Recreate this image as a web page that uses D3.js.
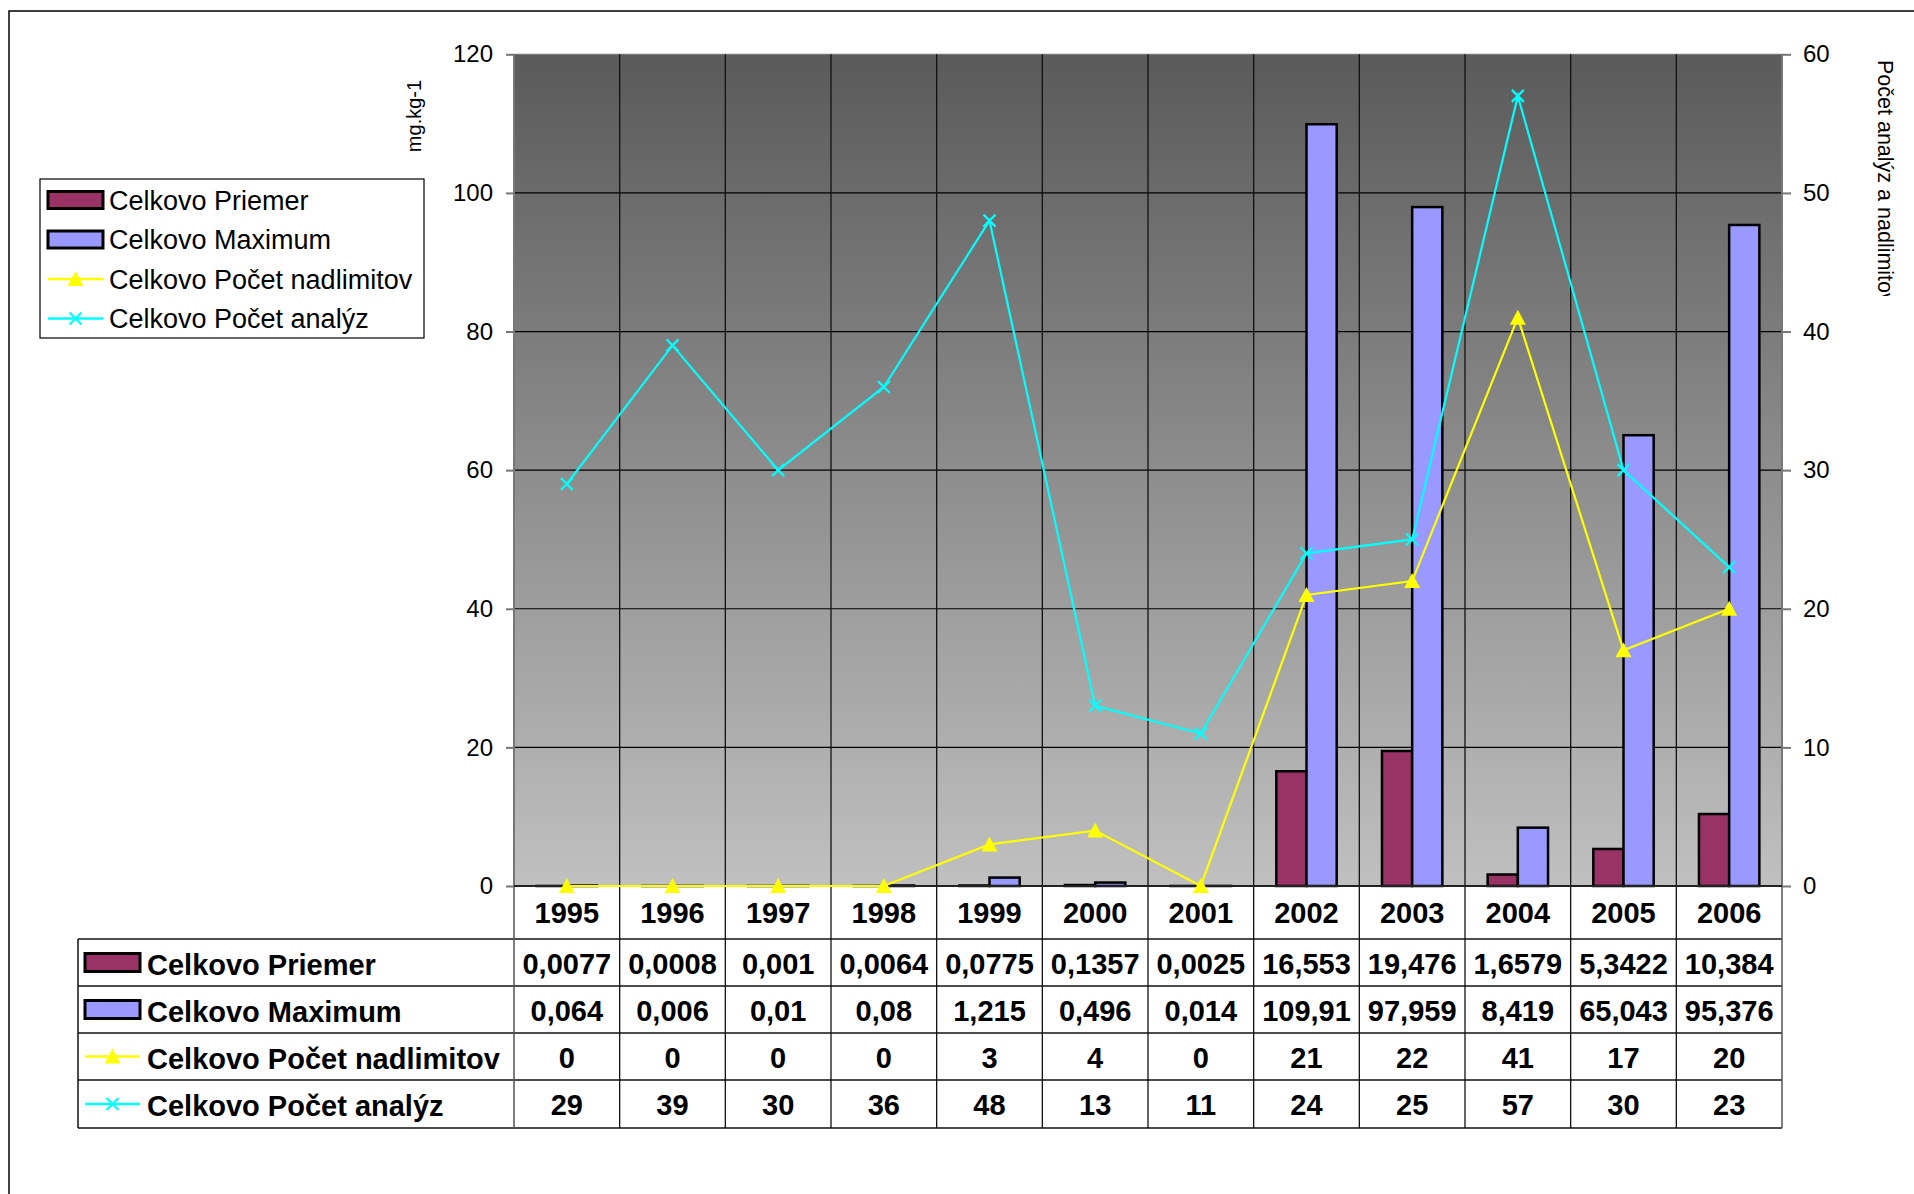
<!DOCTYPE html>
<html>
<head>
<meta charset="utf-8">
<script src="https://cdn.jsdelivr.net/npm/d3@7"></script>
<style>
  html, body { margin: 0; padding: 0; background: #fff; }
  svg { display: block; }
  text { font-family: "Liberation Sans", Arial, sans-serif; }
</style>
</head>
<body>
<svg id="chart" width="1914" height="1194"></svg>
<script>
// ---------------- DATA ----------------
const years = ["1995","1996","1997","1998","1999","2000","2001","2002","2003","2004","2005","2006"];
const priemer = [0.0077, 0.0008, 0.001, 0.0064, 0.0775, 0.1357, 0.0025, 16.553, 19.476, 1.6579, 5.3422, 10.384];
const maximum = [0.064, 0.006, 0.01, 0.08, 1.215, 0.496, 0.014, 109.91, 97.959, 8.419, 65.043, 95.376];
const nadlimitov = [0, 0, 0, 0, 3, 4, 0, 21, 22, 41, 17, 20];
const analyz = [29, 39, 30, 36, 48, 13, 11, 24, 25, 57, 30, 23];
const leftTicks = [0, 20, 40, 60, 80, 100, 120];
const rightTicks = [0, 10, 20, 30, 40, 50, 60];
const seriesNames = ["Celkovo Priemer", "Celkovo Maximum", "Celkovo Počet nadlimitov", "Celkovo Počet analýz"];
const leftTitle = "mg.kg-1";
const rightTitle = "Počet analýz a nadlimitov";

// ---------------- LAYOUT ----------------
const C = { maroon: "#993366", blue: "#9999FF", yellow: "#FFFF00", cyan: "#00FFFF" };
const plotL = 514, plotR = 1782, plotT = 54.3, plotB = 886;
const rowLines = [939, 986, 1033, 1080, 1128];
const tableL = 78;

const svg = d3.select("#chart");
const fmt = v => String(v).replace(".", ",");

const x = d3.scaleBand().domain(years).range([plotL, plotR]).paddingInner(0).paddingOuter(0);
const bw = x.bandwidth();
const xSub = d3.scaleBand().domain(["p", "m"]).range([0, bw]).paddingInner(0).paddingOuter(0.75);
const yL = d3.scaleLinear().domain([0, 120]).range([plotB, plotT]);
const yR = d3.scaleLinear().domain([0, 60]).range([plotB, plotT]);

// outer frame
svg.append("path").attr("d", `M9,1194 L9,11 L1914,11`).attr("fill", "none").attr("stroke", "#000").attr("stroke-width", 1.5);

// plot background gradient
const defs = svg.append("defs");
const grad = defs.append("linearGradient").attr("id", "bg").attr("x1", 0).attr("y1", 0).attr("x2", 0).attr("y2", 1);
grad.append("stop").attr("offset", "0%").attr("stop-color", "#5a5a5a");
grad.append("stop").attr("offset", "100%").attr("stop-color", "#c0c0c0");
svg.append("rect").attr("x", plotL).attr("y", plotT).attr("width", plotR - plotL).attr("height", plotB - plotT).attr("fill", "url(#bg)");

// horizontal gridlines
svg.append("g").selectAll("line").data(leftTicks.filter(t => t > 0)).join("line")
  .attr("x1", plotL).attr("x2", plotR).attr("y1", d => yL(d)).attr("y2", d => yL(d))
  .attr("stroke", d => d === 120 ? "#777" : "#000").attr("stroke-width", 1.2);

// vertical gridlines (plot + table)
svg.append("g").selectAll("line").data(years.slice(1)).join("line")
  .attr("x1", d => x(d)).attr("x2", d => x(d)).attr("y1", plotT).attr("y2", rowLines[rowLines.length - 1])
  .attr("stroke", "#111").attr("stroke-width", 1.3);

// table lines
const tbl = svg.append("g");
tbl.selectAll("line.h").data(rowLines).join("line").attr("class", "h")
  .attr("x1", tableL).attr("x2", plotR).attr("y1", d => d).attr("y2", d => d)
  .attr("stroke", "#111").attr("stroke-width", 1.5);
tbl.append("line").attr("x1", tableL).attr("x2", tableL).attr("y1", rowLines[0]).attr("y2", rowLines[4]).attr("stroke", "#111").attr("stroke-width", 1.5);
tbl.append("line").attr("x1", plotL).attr("x2", plotL).attr("y1", plotB).attr("y2", rowLines[4]).attr("stroke", "#555").attr("stroke-width", 1.5);
tbl.append("line").attr("x1", plotR).attr("x2", plotR).attr("y1", plotB).attr("y2", rowLines[4]).attr("stroke", "#555").attr("stroke-width", 1.5);

// bars
const bars = svg.append("g");
const barSeries = [{ key: "p", vals: priemer, color: C.maroon }, { key: "m", vals: maximum, color: C.blue }];
barSeries.forEach(s => {
  bars.selectAll(null).data(years).join("rect")
    .attr("x", (d) => x(d) + xSub(s.key))
    .attr("width", xSub.bandwidth())
    .attr("y", (d, i) => yL(s.vals[i]))
    .attr("height", (d, i) => plotB - yL(s.vals[i]))
    .attr("fill", s.color).attr("stroke", "#000").attr("stroke-width", 2.5);
});

// axes lines
svg.append("line").attr("x1", plotL).attr("x2", plotL).attr("y1", plotT).attr("y2", plotB).attr("stroke", "#777").attr("stroke-width", 2);
svg.append("line").attr("x1", plotR).attr("x2", plotR).attr("y1", plotT).attr("y2", plotB).attr("stroke", "#777").attr("stroke-width", 2);
svg.append("line").attr("x1", plotL).attr("x2", plotR).attr("y1", plotB).attr("y2", plotB).attr("stroke", "#222").attr("stroke-width", 2);

// left axis
const axL = svg.append("g").attr("transform", `translate(${plotL},0)`)
  .call(d3.axisLeft(yL).tickValues(leftTicks).tickSize(8).tickPadding(13).tickFormat(d3.format("d")));
axL.select(".domain").remove();
axL.selectAll("line").attr("stroke", "#777").attr("stroke-width", 2);
axL.selectAll("text").attr("font-size", 24).attr("fill", "#000").attr("font-family", "Liberation Sans, Arial, sans-serif");

// right axis
const axR = svg.append("g").attr("transform", `translate(${plotR},0)`)
  .call(d3.axisRight(yR).tickValues(rightTicks).tickSize(9).tickPadding(12).tickFormat(d3.format("d")));
axR.select(".domain").remove();
axR.selectAll("line").attr("stroke", "#777").attr("stroke-width", 2);
axR.selectAll("text").attr("font-size", 24).attr("fill", "#000").attr("font-family", "Liberation Sans, Arial, sans-serif");

// lines
const cx = d => x(d) + bw / 2;
const triPath = "M0,-8 L8,7 L-8,7 Z";
const xPath = "M-6,-6 L6,6 M-6,6 L6,-6";
function drawLine(vals, color, marker) {
  const g = svg.append("g");
  const line = d3.line().x((d, i) => cx(years[i])).y(d => yR(d));
  g.append("path").datum(vals).attr("d", line).attr("fill", "none").attr("stroke", color).attr("stroke-width", 2.2);
  g.selectAll("path.m").data(vals).join("path").attr("class", "m")
    .attr("transform", (d, i) => `translate(${cx(years[i])},${yR(d)})`)
    .attr("d", marker === "tri" ? triPath : xPath)
    .attr("fill", marker === "tri" ? color : "none")
    .attr("stroke", color).attr("stroke-width", marker === "tri" ? 0 : 2.2);
}
drawLine(nadlimitov, C.yellow, "tri");
drawLine(analyz, C.cyan, "x");

// axis titles
svg.append("text").attr("transform", `translate(421,116) rotate(-90)`)
  .attr("text-anchor", "middle").attr("font-size", 20).text(leftTitle);
defs.append("clipPath").attr("id", "rclip").append("rect").attr("x", 1840).attr("y", 0).attr("width", 74).attr("height", 296);
svg.append("g").attr("clip-path", "url(#rclip)")
  .append("text").attr("transform", `translate(1878,60) rotate(90)`)
  .attr("text-anchor", "start").attr("font-size", 21.5).text(rightTitle);

// legend box
const leg = svg.append("g");
leg.append("rect").attr("x", 40).attr("y", 179).attr("width", 384).attr("height", 159).attr("fill", "#fff").attr("stroke", "#000").attr("stroke-width", 1.2);
const legY = [200, 239.5, 279, 318.5];
function key(g, kx, ky, i, w, h) {
  if (i < 2) {
    g.append("rect").attr("x", kx).attr("y", ky - h / 2).attr("width", w).attr("height", h)
      .attr("fill", i === 0 ? C.maroon : C.blue).attr("stroke", "#000").attr("stroke-width", 3);
  } else {
    const col = i === 2 ? C.yellow : C.cyan;
    g.append("line").attr("x1", kx).attr("x2", kx + w).attr("y1", ky).attr("y2", ky).attr("stroke", col).attr("stroke-width", 2.5);
    g.append("path").attr("transform", `translate(${kx + w / 2},${ky})`).attr("d", i === 2 ? triPath : xPath)
      .attr("fill", i === 2 ? col : "none").attr("stroke", col).attr("stroke-width", i === 2 ? 0 : 2.2);
  }
}
seriesNames.forEach((n, i) => {
  key(leg, 48, legY[i], i, 55, 17);
  leg.append("text").attr("x", 109).attr("y", legY[i] + 9.5).attr("font-size", 27).text(n);
});

// table contents
const tg = svg.append("g").attr("font-weight", "bold").attr("font-size", 29);
tg.selectAll("text.yr").data(years).join("text").attr("class", "yr")
  .attr("x", d => cx(d)).attr("y", (plotB + rowLines[0]) / 2 + 10).attr("text-anchor", "middle").text(d => d);
const rows = [priemer, maximum, nadlimitov, analyz];
rows.forEach((vals, r) => {
  const yc = (rowLines[r] + rowLines[r + 1]) / 2;
  tg.selectAll(null).data(vals).join("text")
    .attr("x", (d, i) => cx(years[i])).attr("y", yc + 11).attr("text-anchor", "middle").text(d => fmt(d));
  key(svg, 85, yc, r, 55, 18);
  tg.append("text").attr("x", 147).attr("y", yc + 12).text(seriesNames[r]);
});
</script>
</body>
</html>
